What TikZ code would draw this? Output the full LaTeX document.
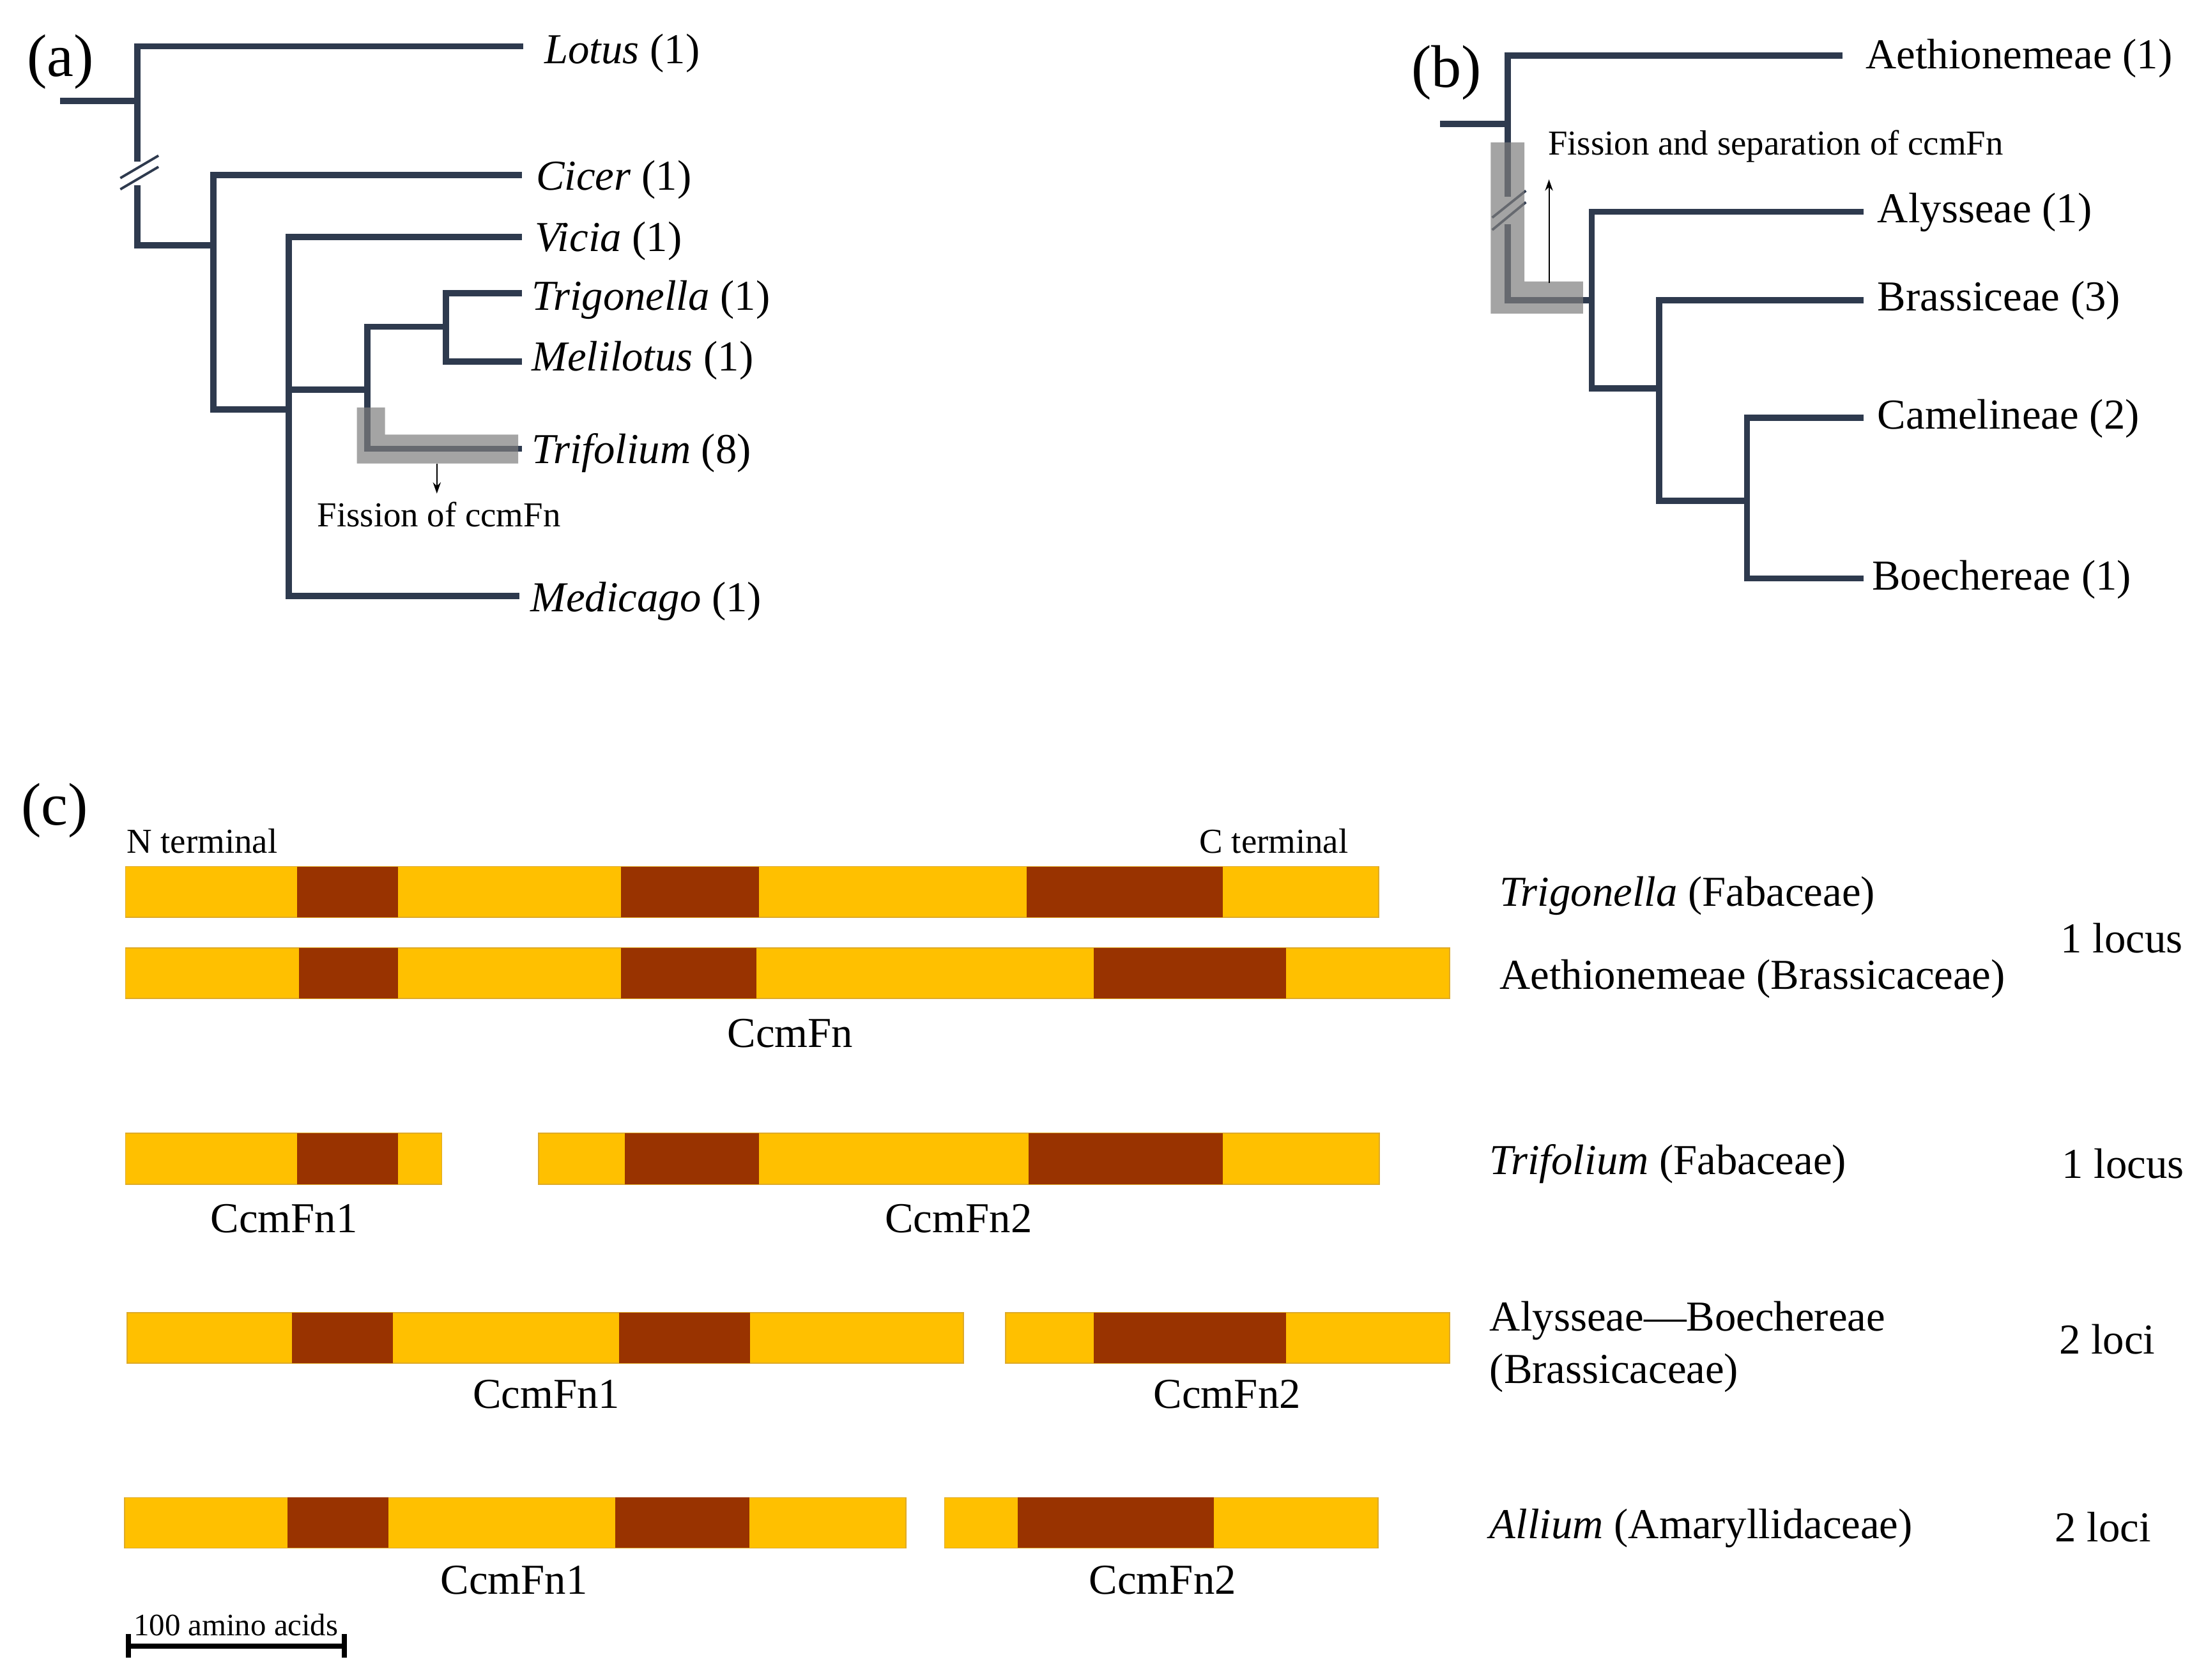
\documentclass[tikz,border=0pt]{standalone}
\usepackage{fontspec}
\setmainfont{Liberation Serif}
\usetikzlibrary{arrows.meta}
\definecolor{navy}{RGB}{46,58,78}
\definecolor{barY}{RGB}{255,192,0}
\definecolor{barD}{RGB}{153,51,0}
\definecolor{barEdge}{RGB}{222,170,40}
\definecolor{hlgray}{RGB}{126,126,126}
\newcommand\FsMain{\fontsize{19}{22}\selectfont}
\newcommand\FsSmall{\fontsize{15.6}{18}\selectfont}
\newcommand\FsScale{\fontsize{13.9}{16}\selectfont}
\newcommand\FsPanel{\fontsize{26.8}{30}\selectfont}
\begin{document}
\begin{tikzpicture}[x=0.02195cm,y=-0.02195cm,
  br/.style={draw=navy,line width=2.8pt,line cap=rect,line join=miter},
  brk/.style={draw=navy,line width=1.1pt},
  hl/.style={fill=hlgray,fill opacity=0.7},
  note/.style={-{Stealth[length=5pt,width=3.5pt]},line width=0.6pt,draw=black},
  lab/.style={anchor=west,inner sep=0pt,font=\FsMain,yshift=-1.25pt},
  small/.style={inner sep=0pt,font=\FsSmall},
  panel/.style={inner sep=0pt,font=\FsPanel},
  bar/.style={fill=barY,draw=barEdge,line width=0.5pt},
  dom/.style={fill=barD},
  gname/.style={inner sep=0pt,font=\FsMain}]
\useasboundingbox (0,0) rectangle (1568,1198);

% ---------- panel (a) ----------
\node[panel] (pa) at (43,44) {(a)};
\draw[br] (371,33) -- (98,33) -- (98,112.8);
\draw[br] (98,134.2) -- (98,175) -- (150,175);
\draw[br] (45,72) -- (98,72);
\draw[brk] (85.8,127) -- (113,111);
\draw[brk] (85.8,135) -- (113,119);
\draw[br] (370,125) -- (152,125) -- (152,292) -- (204,292);
\draw[br] (370,169) -- (206,169) -- (206,425) -- (368,425);
\draw[br] (206,278) -- (260,278);
\draw[br] (314,233) -- (262,233) -- (262,320) -- (370,320);
\draw[br] (370,209) -- (318,209) -- (318,258) -- (370,258);
\path[hl] (254.5,290.6) -- (274.5,290.6) -- (274.5,310) -- (369.5,310) -- (369.5,330.6) -- (254.5,330.6) -- cycle;
\coordinate (fa0) at (311.5,330.6);
\coordinate (fa1) at (311.5,352);
\draw[note] (fa0) -- (fa1);
\node[small] (fa) at (313,367) {Fission of ccmFn};

\node[lab] (tLotus) at (388,36) {\textit{Lotus} (1)};
\node[lab] (tCicer) at (382,126) {\textit{Cicer} (1)};
\node[lab] (tVicia) at (381,170) {\textit{Vicia} (1)};
\node[lab] (tTrig) at (379,212) {\textit{Trigonella} (1)};
\node[lab] (tMeli) at (379,255) {\textit{Melilotus} (1)};
\node[lab] (tTrif) at (379,321) {\textit{Trifolium} (8)};
\node[lab] (tMedi) at (378,427) {\textit{Medicago} (1)};

% ---------- panel (b) ----------
\node[panel] (pb) at (1031.5,52) {(b)};
\draw[br] (1311.7,39.5) -- (1075,39.5) -- (1075,137.9);
\draw[br] (1075,162.3) -- (1075,214) -- (1133,214);
\draw[br] (1029,88.5) -- (1075,88.5);
\draw[br] (1326.4,151) -- (1135,151) -- (1135,277) -- (1181,277);
\draw[br] (1326.4,214) -- (1183,214) -- (1183,357) -- (1243.5,357);
\draw[br] (1326.4,298) -- (1245.7,298) -- (1245.7,412.5) -- (1326.4,412.5);
\draw[brk] (1064,155.2) -- (1088,136);
\draw[brk] (1064,164) -- (1088,144.2);
\path[hl] (1063,101.5) -- (1087,101.5) -- (1087,200.7) -- (1128.8,200.7) -- (1128.8,223.6) -- (1063,223.6) -- cycle;
\coordinate (fb0) at (1104.5,202);
\coordinate (fb1) at (1104.5,128);
\draw[note] (fb0) -- (fb1);
\node[small,anchor=west] (fb) at (1103.5,104.5) {Fission and separation of ccmFn};

\node[lab] (tAeth) at (1330,39.5) {Aethionemeae (1)};
\node[lab] (tAlys) at (1338.5,149.5) {Alysseae (1)};
\node[lab] (tBras) at (1338.5,212.5) {Brassiceae (3)};
\node[lab] (tCame) at (1338.5,296.5) {Camelineae (2)};
\node[lab] (tBoec) at (1334.5,411.5) {Boechereae (1)};

% ---------- panel (c) ----------
\node[panel] (pc) at (39,578) {(c)};
\node[small,anchor=west] (nterm) at (90,600) {N terminal};
\node[small,anchor=west] (cterm) at (855,600) {C terminal};

% row 1
\path[bar] (89.5,618) rectangle (983,654);
\path[dom] (212,618) rectangle (284,654);
\path[dom] (443,618) rectangle (541,654);
\path[dom] (732,618) rectangle (872,654);
% row 2
\path[bar] (89.5,676) rectangle (1033.5,712);
\path[dom] (213,676) rectangle (284,712);
\path[dom] (443,676) rectangle (539.5,712);
\path[dom] (780,676) rectangle (917,712);
\node[gname] (g1) at (563.5,737) {CcmFn};
% row 3
\path[bar] (89.5,808) rectangle (315,844.5);
\path[dom] (212,808) rectangle (284,844.5);
\path[bar] (384,808) rectangle (983.5,844.5);
\path[dom] (445.5,808) rectangle (541,844.5);
\path[dom] (733.5,808) rectangle (872,844.5);
\node[gname] (g31) at (202.5,869) {CcmFn1};
\node[gname] (g32) at (683.5,869) {CcmFn2};
% row 4
\path[bar] (90.5,936) rectangle (687,972);
\path[dom] (208,936) rectangle (280,972);
\path[dom] (441.5,936) rectangle (535,972);
\path[bar] (717,936) rectangle (1033.5,972);
\path[dom] (780,936) rectangle (917,972);
\node[gname] (g41) at (389.5,994.5) {CcmFn1};
\node[gname] (g42) at (875,994.5) {CcmFn2};
% row 5
\path[bar] (89,1068) rectangle (646,1104);
\path[dom] (205,1068) rectangle (277,1104);
\path[dom] (438.5,1068) rectangle (534.5,1104);
\path[bar] (673.5,1068) rectangle (982.5,1104);
\path[dom] (725.5,1068) rectangle (865.5,1104);
\node[gname] (g51) at (366.5,1127) {CcmFn1};
\node[gname] (g52) at (829,1127) {CcmFn2};

% scale bar
\coordinate (s0) at (91.5,1174);
\coordinate (s1) at (245.5,1174);
\draw[line width=2.2pt] (s0) -- (s1);
\draw[line width=2.2pt] (91.5,1165.5) -- (91.5,1182);
\draw[line width=2.2pt] (245.5,1165.5) -- (245.5,1182);
\node[inner sep=0pt,font=\FsScale,anchor=west] (sc) at (95,1159) {100 amino acids};

% right-hand labels
\node[lab] (rTrig) at (1069,637) {\textit{Trigonella} (Fabaceae)};
\node[lab] (rAeth) at (1069,696) {Aethionemeae (Brassicaceae)};
\node[lab] (rL1) at (1469,667) {1 locus};
\node[lab] (rTrif) at (1062,828) {\textit{Trifolium} (Fabaceae)};
\node[lab] (rL2) at (1470,828) {1 locus};
\node[lab] (rAly) at (1062,940) {Alysseae—Boechereae};
\node[lab] (rBra) at (1062,977) {(Brassicaceae)};
\node[lab] (rL3) at (1468,953) {2 loci};
\node[lab] (rAll) at (1062,1088) {\textit{Allium} (Amaryllidaceae)};
\node[lab] (rL4) at (1465,1087) {2 loci};
\end{tikzpicture}
\end{document}
